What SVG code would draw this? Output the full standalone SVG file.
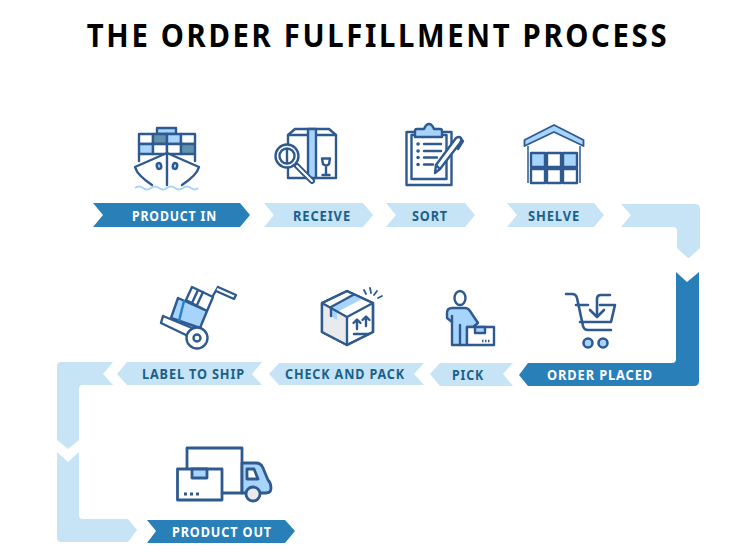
<svg xmlns="http://www.w3.org/2000/svg" width="740" height="558" viewBox="0 0 740 558">
<style>
.t{font-family:"Noto Sans","Open Sans","Liberation Sans",sans-serif;font-weight:700;text-anchor:middle}
.title{font-size:33px;letter-spacing:3px;fill:#000}
.l{font-size:14.500px;letter-spacing:1px}
.d{fill:#fff}.m{fill:#1a618a}
.bd{fill:#2980b9}.bl{fill:#c7e4f6}
.i{fill:none;stroke:#2f5a8f;stroke-width:2.400;stroke-linejoin:round;stroke-linecap:round}
.w{fill:#fff}.b{fill:#a6d4fc}.g{fill:#5e92ad}.e{fill:#e8eaec}
</style>
<text class="t title" transform="translate(378 47) scale(.887 1)">THE ORDER FULFILLMENT PROCESS</text>

<g id="connectors">
<path class="bl" d="M621 204H695Q700 204 700 209V248L689 258H688L677 248V231Q677 227 673 227H621L631 215Z"/>
<path class="bd" d="M676 272L687 282L699 272V381Q699 386 694 386H528L519 375L528 363H672Q676 363 676 359Z"/>
<path class="bl" d="M113 362H61Q57 362 57 366V440L68 449L79 440V389Q79 385 83 385H113L103 374Z"/>
<path class="bl" d="M57 452L68 462L79 452V515Q79 519 83 519H128L137 530L128 542H61Q57 542 57 538Z"/>
</g>

<g id="product-in">
<path class="bd" d="M93 203H240L250 215L240 227H93L103 215Z"/>
<text class="t l d" x="174.500" y="220.500" textLength="85" lengthAdjust="spacingAndGlyphs">PRODUCT IN</text>
<g class="i">
<rect class="b" x="157" y="128" width="19" height="6"/>
<rect class="w" x="139" y="134" width="14" height="10"/>
<rect class="g" x="153" y="134" width="14" height="10"/>
<rect class="b" x="167" y="134" width="14" height="10"/>
<rect class="w" x="181" y="134" width="14" height="10"/>
<rect class="b" x="139" y="144" width="14" height="10"/>
<rect class="w" x="153" y="144" width="14" height="10"/>
<rect class="w" x="167" y="144" width="14" height="10"/>
<rect class="g" x="181" y="144" width="14" height="10"/>
<path d="M139 154V161M195 154V161"/>
<path class="w" d="M167 153L199 167Q197 175 182 185H152Q137 175 135 167Z" stroke="none"/>
<path d="M152 185Q137 175 135 167L167 153L199 167Q197 175 182 185M167 153V185"/>
<ellipse cx="159" cy="166" rx="2.200" ry="3" transform="rotate(-12 159 166)" fill="#a6d4fc"/>
<ellipse cx="175" cy="166" rx="2.200" ry="3" transform="rotate(12 175 166)" fill="#a6d4fc"/>
</g>
<path d="M135 188Q139 185 143 188T151 188T159 188T167 188T175 188T183 188T191 188T198 188" fill="none" stroke="#a6d4fc" stroke-width="2"/>
</g>

<g id="receive">
<path class="bl" d="M264 203H363L373 215L363 227H264L274 215Z"/>
<text class="t l m" x="322" y="220.500" textLength="58" lengthAdjust="spacingAndGlyphs">RECEIVE</text>
<g class="i">
<path class="w" d="M288 178V135L295 129H329L336 135V178Z"/>
<path d="M288 135H336"/>
<rect class="b" x="308" y="129" width="8" height="49"/>
<path d="M322 158.500H330L329 164Q326.500 167 323 164ZM326 166V175M322.500 175H329.500"/>
<path d="M297 166L312 181" stroke-width="6"/>
<path d="M297 166L312 181" stroke="#fff" stroke-width="2"/>
<circle class="w" cx="287" cy="156" r="11.500"/>
<circle cx="287" cy="156" r="7.500"/>
<path d="M287 149V163"/>
</g>
</g>

<g id="sort">
<path class="bl" d="M386 203H465L475 215L465 227H386L396 215Z"/>
<text class="t l m" x="430" y="220.500" textLength="36" lengthAdjust="spacingAndGlyphs">SORT</text>
<g class="i">
<rect class="w" x="406.500" y="132" width="45" height="53"/>
<rect x="411.500" y="135" width="35" height="44"/>
<path class="b" d="M415 137V131Q415 129 417 129H424Q426 124 429 124Q432 124 434 129H440Q442 129 442 131V137Z"/>
<path d="M424 144H441M424 151H441M424 157.500H437M424 164.500H433"/>
<path d="M418 144h.1M418 151h.1M418 157.500h.1M418 164.500h.1" stroke-width="3.500"/>
<path class="w" d="M435 173L436 165L456 138Q459 136 461 138Q462 140 460 143L440 169Z"/>
<path d="M436 165L440 169M461 139L463 141L458 149"/>
</g>
</g>

<g id="shelve">
<path class="bl" d="M507 203H594L604 215L594 227H507L517 215Z"/>
<text class="t l m" x="554" y="220.500" textLength="52" lengthAdjust="spacingAndGlyphs">SHELVE</text>
<g class="i">
<path d="M528 146V183M580 146V183" stroke-linecap="butt" stroke-width="1.500"/>
<path class="b" d="M524.500 140L554 125L583.500 140V146L554 132L524.500 146Z" stroke-width="1.800"/>
<rect class="b" x="531" y="153" width="14" height="14"/>
<rect class="w" x="547" y="153" width="14" height="14"/>
<rect class="b" x="563" y="153" width="14" height="14"/>
<rect class="w" x="531" y="169" width="14" height="14"/>
<rect class="w" x="547" y="169" width="14" height="14"/>
<rect class="w" x="563" y="169" width="14" height="14"/>
</g>
</g>

<g id="order-placed">
<text class="t l d" x="600" y="380" textLength="106" lengthAdjust="spacingAndGlyphs">ORDER PLACED</text>
<g class="i" style="stroke-width:2.600">
<path d="M566 294H572Q576 294 577 298L583 326Q584 330 588 330H611"/>
<path d="M576 305H588M600 305H615L611 322H580"/>
<path d="M610 295H601Q597 295 597 299V316"/>
<path d="M590 310L597 317L604 310"/>
<circle class="b" cx="588" cy="343" r="4.500"/>
<circle class="b" cx="603" cy="343" r="4.500"/>
</g>
</g>

<g id="pick">
<path class="bl" d="M430 374L440 363H513L503 374L513 386H440Z"/>
<text class="t l m" x="468" y="379.500" textLength="32" lengthAdjust="spacingAndGlyphs">PICK</text>
<g class="i">
<ellipse class="w" cx="460" cy="298" rx="5.500" ry="7"/>
<path class="b" d="M452 345V322L447 318V313Q447 308 452 308H465Q468 308 470 311L478 323L473 327H467V345Z"/>
<path d="M460 325V345M452 316V322"/>
<rect class="w" x="467" y="327" width="27" height="18"/>
<rect class="b" x="475" y="327" width="10" height="6"/>
<path d="M482 341H490" stroke-dasharray="1.500 1.500" stroke-linecap="butt"/>
</g>
</g>

<g id="check-and-pack">
<path class="bl" d="M269 374L279 363H424L414 374L424 385H279Z"/>
<text class="t l m" x="345" y="379" textLength="120" lengthAdjust="spacingAndGlyphs">CHECK AND PACK</text>
<g class="i">
<path class="w" d="M347 291L373 303V332L347 345L322 332V303Z"/>
<path class="e" d="M322 303L347 317V345L322 332Z" stroke="none"/>
<path class="b" d="M353 295L362 299L337 312V320L331 316V308Z" stroke="none"/>
<path d="M347 291L373 303V332L347 345L322 332V303ZM322 303L347 317L373 303M347 317V345"/>
<path d="M331 307L353 295M331 307V316"/>
<path d="M354 334H369M357 329V320M353.500 323L357 319.500L360.500 323M366 326V317M362.500 320L366 316.500L369.500 320"/>
<path d="M364 290L366 294M370 288L371 293M377 291L374 295M382 296L378 298" stroke-width="1.800"/>
</g>
</g>

<g id="label-to-ship">
<path class="bl" d="M117 374L127 362H262L252 374L262 385H127Z"/>
<text class="t l m" x="193.500" y="379" textLength="103" lengthAdjust="spacingAndGlyphs">LABEL TO SHIP</text>
<g class="i">
<path d="M194 329L218 287"/>
<path class="w" d="M218 287L236 295L234 299L216 291"/>
<path class="w" d="M192 287L213 297L207 311L186 300Z"/>
<path d="M198 290L192 303M203 292L197 305"/>
<path class="b" d="M178 298L207 311L200 328L171 318Z"/>
<path d="M184 301L179 321" stroke="#2980c9"/>
<path class="w" d="M163 316L192 328L188 336L161 323Z"/>
<circle class="w" cx="197" cy="338" r="10.500"/>
<circle cx="197" cy="338" r="3.500"/>
</g>
</g>

<g id="product-out">
<path class="bd" d="M147 520H285L295 531L285 543H147L156 531Z"/>
<text class="t l d" x="222" y="537" textLength="100" lengthAdjust="spacingAndGlyphs">PRODUCT OUT</text>
<g class="i" style="stroke-width:2.800">
<rect class="w" x="187" y="448" width="55" height="45"/>
<path class="b" d="M242 463H256Q261 463 263 468L268 480Q271 483 271 488Q271 493 266 493H242Z"/>
<path class="w" d="M247 469H254L258 479H247Z"/>
<circle class="e" cx="253" cy="494" r="7"/>
<rect class="w" x="177.500" y="469" width="44.500" height="31"/>
<rect class="b" x="192" y="469" width="15" height="9"/>
<path d="M184 494H201" stroke-dasharray="3 3" stroke-linecap="butt"/>
</g>
</g>
</svg>
